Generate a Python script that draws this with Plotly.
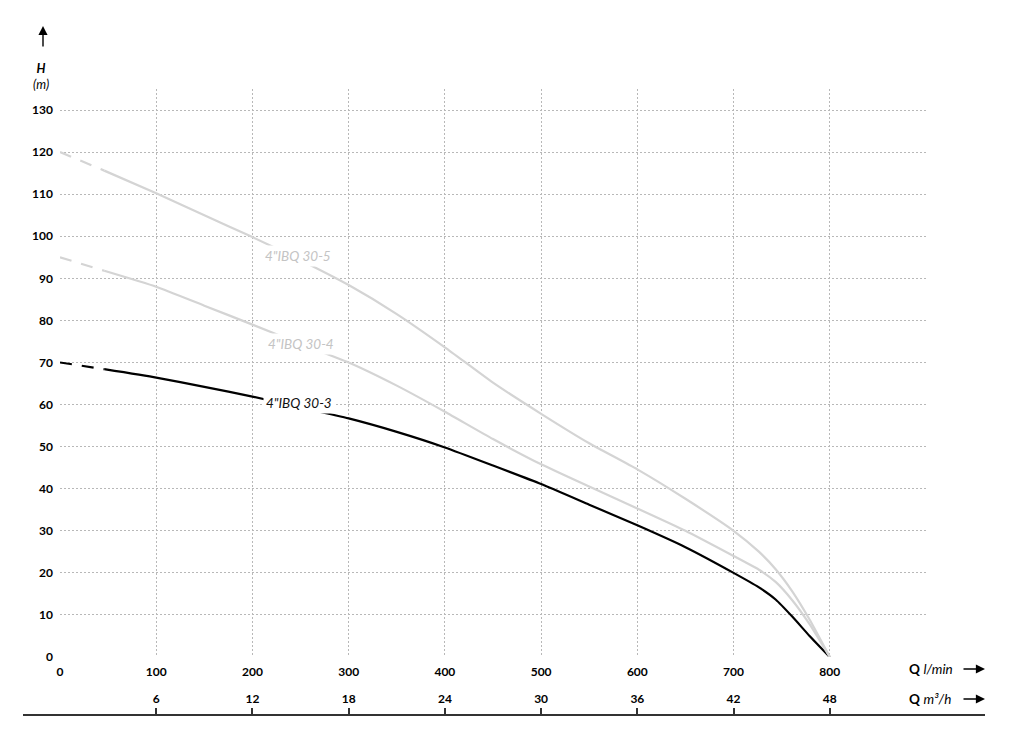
import plotly.graph_objects as go

# ---------------- data ----------------
flow_lmin = [0, 46, 100, 150, 200, 250, 300, 350, 400, 450, 500, 550, 600, 650, 700, 726, 744, 761, 779, 800]
head_30_3 = [70, 68.4, 66.4, 64.2, 61.9, 59.3, 56.7, 53.5, 49.8, 45.5, 41.1, 36.2, 31.3, 26.1, 20.0, 16.6, 13.6, 9.6, 5.0, 0]
head_30_4 = [95, 91.8, 88.0, 83.5, 79.0, 74.4, 70.0, 64.5, 58.3, 51.8, 45.8, 40.5, 35.3, 30.0, 24.0, 20.8, 17.8, 13.5, 7.8, 0]
head_30_5 = [120, 115.6, 110.2, 105.0, 99.8, 94.3, 88.4, 81.5, 73.6, 65.2, 57.8, 50.8, 44.6, 37.6, 30.0, 25.1, 20.8, 15.6, 8.9, 0]

series_names = ['4"IBQ 30-3', '4"IBQ 30-4', '4"IBQ 30-5']
label_pos = [(248, 60.4), (250, 74.4), (247, 95.3)]  # (Q, H) where each label sits on its curve

x_ticks_lmin = [0, 100, 200, 300, 400, 500, 600, 700, 800, 900]
x_ticktext_lmin = ["0", "100", "200", "300", "400", "500", "600", "700", "800", ""]
y_ticks = [0, 10, 20, 30, 40, 50, 60, 70, 80, 90, 100, 110, 120, 130, 135]
y_ticktext = ["0", "10", "20", "30", "40", "50", "60", "70", "80", "90", "100", "110", "120", "130", ""]
x_ticks_m3h = [6, 12, 18, 24, 30, 36, 42, 48]

# ---------------- layout geometry (targets in page pixels) ----------------
PAGE_OFF = 8                    # default body margin of the html page
W, H = 1016, 723
ML, MR, MT, MB = 12, 36, 81, 10
PW, PH = W - ML - MR, H - MT - MB


def px_x(p):
    return (p - PAGE_OFF - ML) / PW


def px_y(p):
    return (H - MB - (p - PAGE_OFF)) / PH


plot_left, plot_right, plot_bottom = 60, 926, 657
sec_left, sec_right, sec_line = 23, 985, 716
LMIN_MAX = 900


def m3h_at(p):
    return (p - plot_left) / (plot_right - plot_left) * LMIN_MAX * 60 / 1000


FONT = "Lato"
colors = ["#000000", "#d4d4d4", "#d4d4d4"]
label_colors = ["#111111", "#c4c4c4", "#c4c4c4"]
series = [head_30_3, head_30_4, head_30_5]

fig = go.Figure()

for name, h, col in zip(series_names, series, colors):
    # dashed start (extrapolated part)
    fig.add_trace(go.Scatter(
        x=flow_lmin[:2], y=h[:2], mode="lines",
        line=dict(color=col, width=2.2, dash="12px,10px"),
        hoverinfo="skip", showlegend=False))
    fig.add_trace(go.Scatter(
        x=flow_lmin[1:], y=h[1:], mode="lines", name=name,
        line=dict(color=col, width=2.2, shape="spline", smoothing=0.5),
        showlegend=False))

# invisible trace to carry secondary (m3/h) axis
fig.add_trace(go.Scatter(
    x=x_ticks_m3h, y=[0] * len(x_ticks_m3h), xaxis="x2", yaxis="y2",
    mode="markers", marker=dict(opacity=0), hoverinfo="skip", showlegend=False))

annotations = []
for name, (lx, ly), lc in zip(series_names, label_pos, label_colors):
    annotations.append(dict(
        x=lx, y=ly, xref="x", yref="y", text="<i>" + name + "</i>", showarrow=False,
        xanchor="center", yanchor="middle",
        font=dict(family=FONT, size=13.5, color=lc), bgcolor="white", borderpad=2))

# y-axis title and arrows
annotations += [
    dict(x=px_x(41), y=px_y(77), xref="paper", yref="paper", xanchor="center", yanchor="middle",
         text="<b><i>H</i></b><br><i>(m)</i>",
         showarrow=False, font=dict(family=FONT, size=12.5, color="black")),
    dict(x=px_x(43), y=px_y(26), xref="paper", yref="paper", text="", showarrow=True,
         ax=0, ay=22, arrowhead=2, arrowsize=1.3, arrowwidth=1.4, arrowcolor="black"),
    dict(x=px_x(907), y=px_y(669), xref="paper", yref="paper", xanchor="left", yanchor="middle",
         text="<b>Q</b> <i>l/min</i>", showarrow=False, font=dict(family=FONT, size=13.5, color="black")),
    dict(x=px_x(985), y=px_y(669), xref="paper", yref="paper", text="", showarrow=True,
         ax=-23, ay=0, arrowhead=2, arrowsize=1.3, arrowwidth=1.4, arrowcolor="black"),
    dict(x=px_x(907), y=px_y(699), xref="paper", yref="paper", xanchor="left", yanchor="middle",
         text="<b>Q</b> <i>m³/h</i>", showarrow=False, font=dict(family=FONT, size=13.5, color="black")),
    dict(x=px_x(985), y=px_y(699), xref="paper", yref="paper", text="", showarrow=True,
         ax=-23, ay=0, arrowhead=2, arrowsize=1.3, arrowwidth=1.4, arrowcolor="black"),
]

tickfont = dict(family=FONT, size=12, color="black", weight="bold")
grid = dict(showgrid=True, gridcolor="#b8b8b8", gridwidth=1, griddash="2px,2px",
            zeroline=False, showline=False, ticks="")

fig.update_layout(
    width=W, height=H,
    margin=dict(l=ML, r=MR, t=MT, b=MB),
    paper_bgcolor="white", plot_bgcolor="white",
    xaxis=dict(domain=[px_x(plot_left), px_x(plot_right)], range=[0, LMIN_MAX],
               tickmode="array", tickvals=x_ticks_lmin, ticktext=x_ticktext_lmin,
               tickfont=tickfont, ticklabelstandoff=6, automargin=False, **grid),
    yaxis=dict(domain=[px_y(plot_bottom), 1], range=[0, 135],
               tickmode="array", tickvals=y_ticks, ticktext=y_ticktext,
               tickfont=tickfont, ticklabelstandoff=6, automargin=False, **grid),
    xaxis2=dict(domain=[px_x(sec_left), px_x(sec_right)],
                range=[m3h_at(sec_left), m3h_at(sec_right)],
                anchor="y2", side="top", tickmode="array", tickvals=x_ticks_m3h,
                ticks="outside", ticklen=6, tickwidth=1.5, tickcolor="#333333",
                showline=True, linecolor="#333333", linewidth=1.5,
                showgrid=False, zeroline=False, tickfont=tickfont, automargin=False),
    yaxis2=dict(domain=[0, px_y(sec_line)], range=[0, 1], visible=False, fixedrange=True),
    annotations=annotations,
    showlegend=False,
)

fig.write_html("out.html")
